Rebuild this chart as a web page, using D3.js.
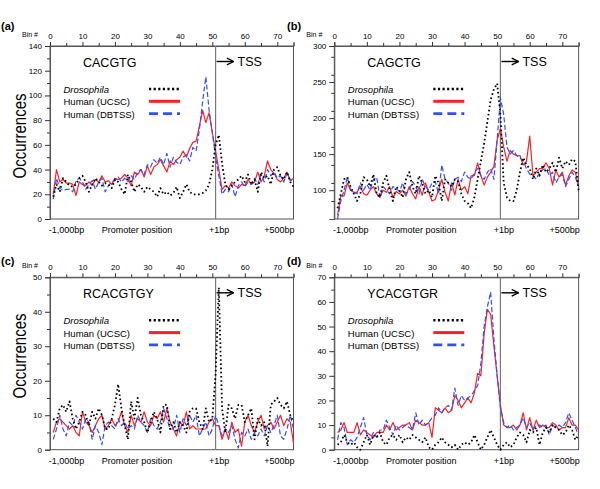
<!DOCTYPE html>
<html><head><meta charset="utf-8">
<script src="https://cdn.jsdelivr.net/npm/d3@7"></script>
<style>body{margin:0;background:#fff} text{font-family:"Liberation Sans",Arial,Helvetica,sans-serif;fill:#000}</style>
</head><body><svg id="chart" width="600" height="489"></svg>
<script>
// ---- data (bins 1..75) ----
const binTickLabels = [0,10,20,30,40,50,60,70];
const seriesNames = ["Drosophila","Human (UCSC)","Human (DBTSS)"];
const motifs = ["CACGTG","CAGCTG","RCACGTGY","YCACGTGR"];
const panelLabels = ["(a)","(b)","(c)","(d)"];
const tssBin = 51;

const a_dro = [18,28,22,33,30,27,26,28,33,35, 30,22,28,33,30,27,29,28,25,32, 30,24,20,36,30,22,28,26,22,26, 24,22,18,25,20,22,19,21,26,17, 22,28,22,20,20,20,21,23,28,40, 60,68,45,28,24,27,30,32,35,30, 36,28,32,22,38,33,35,28,40,42, 35,32,38,30,26];
const a_ucsc = [20,40,30,32,29,29,28,19,30,28, 27,30,27,32,30,35,30,31,28,33, 32,33,36,33,27,38,36,40,34,43, 36,42,44,48,43,38,47,44,48,50, 55,50,57,62,63,75,88,78,86,70, 55,40,24,27,25,30,27,25,28,27, 32,28,30,38,30,35,47,40,37,32, 30,33,38,31,33];
const a_dbtss = [16,33,25,23,24,24,22,31,33,30, 24,28,31,24,30,33,22,27,30,31, 34,30,33,30,35,32,38,40,36,44, 42,48,45,50,44,53,42,50,46,44, 50,52,47,58,55,72,95,115,88,70, 50,35,20,24,22,28,18,27,30,26, 30,28,33,28,36,30,40,35,38,33, 35,30,37,32,30];

const b_dro = [75,95,115,118,105,95,85,95,118,115, 105,122,95,90,110,120,100,85,105,100, 90,115,125,105,95,120,110,95,100,90, 120,110,85,115,110,105,115,112,95,85, 82,75,90,115,140,165,195,225,240,248, 205,110,90,85,85,100,125,145,135,130, 115,130,120,135,125,130,138,125,145,130, 140,135,143,140,100];
const b_ucsc = [65,92,92,110,100,97,97,105,95,93, 100,105,95,90,100,97,105,90,98,95, 100,92,105,95,88,105,93,110,97,85, 87,100,115,97,85,110,93,115,100,105, 95,120,120,138,120,107,118,125,133,170, 185,160,140,155,150,148,148,135,140,175, 120,125,130,130,138,130,107,128,118,125, 107,120,128,125,105];
const b_dbtss = [60,85,100,118,100,97,95,110,100,108, 100,115,118,90,105,100,95,105,102,98, 110,95,100,112,105,95,115,105,100,110, 112,95,135,115,110,100,115,118,112,125, 118,115,125,130,120,115,125,130,115,170, 228,205,160,150,155,148,145,140,130,122, 120,115,125,128,130,120,125,110,118,122, 105,115,125,118,105];

const c_dro = [9,8,12,13,11,14,9,6,8,11, 10,7,11,9,12,10,6,6,9,13, 19,12,7,3,14,9,15,10,8,5, 8,11,9,5,13,13,6,8,5,8, 7,5,11,12,12,8,6,12,8,9, 22,47,12,5,13,12,9,13,13,8, 10,12,3,9,7,8,1,13,14,15, 13,12,14,10,8];
const c_ucsc = [5,8,9,8,7,6,7,5,4,11, 8,7,5,7,9,10,6,7,9,7, 8,11,7,5,10,7,9,8,11,8, 7,10,9,11,8,12,8,6,4,8, 7,11,6,7,6,6,6,6,8,9, 7,7,3,6,3,8,5,6,1,8, 10,7,5,8,10,6,7,8,6,8, 10,7,9,8,2];
const c_dbtss = [3,6,10,6,4,8,7,10,8,6, 9,8,3,7,5,1.5,7,8,7,6, 9,7,8,6,7,6,10,8,7,5, 9,7,6,8,12,9,6,6,10,5, 9,7,10,8,10,4,6,8,4,6, 10,7,4,6,5,7,3,0.5,5,4, 6,3,5,4,6,4,7,5,7,10, 4,3,6,10,6];

const d_dro = [2,3,6,3,2,3,1,0,3,6, 2,6,5,7,3,2,5,6,4,6, 3,5,4,6,5,4,3,5,1,0, 2,3,5,3,2,1,2,0,2,3, 2,3,6,3,0,2,5,8,5,2, 0,2,3,1,2,5,7,6,3,8, 7,9,2,7,9,7,10,9,8,6, 7,10,8,4,6];
const d_ucsc = [7,8,11,7,7,7,11,6,8,7, 6,5,7,7,7,10,8,11,8,9, 10,10,11,8,12,11,10,10,11,5, 17,16,15,17,15,16,22,20,17,19, 21,19,23,31,30,47,57,55,42,30, 18,10,9,9,10,8,10,15,8,13, 8,12,9,10,9,9,11,10,8,9, 9,13,10,10,8];
const d_dbtss = [4,11,9,2,4,3,5,9,13,6, 4,7,5,8,8,12,9,6,10,8, 9,10,9,8,15,10,12,10,11,13, 14,17,15,17,18,16,25,18,22,20, 21,22,24,26,35,50,58,64,45,30, 17,11,9,10,8,9,10,13,9,11, 8,10,10,9,10,6,10,9,10,9, 11,15,12,9,6];

const yTicksA = [0,20,40,60,80,100,120,140];
const yTicksB = [100,150,200,250,300];
const yTicksC = [0,10,20,30,40,50];
const yTicksD = [0,10,20,30,40,50,60,70];

// ---- layout ----
const panels = [
  {lab:panelLabels[0], motif:motifs[0], series:[a_dro,a_ucsc,a_dbtss], dom:[0,140], ticks:yTicksA, minor:10,
   L:50, R:293.5, T:46, B:219, ylab:136, labX:1, labY:30},
  {lab:panelLabels[1], motif:motifs[1], series:[b_dro,b_ucsc,b_dbtss], dom:[60,300], ticks:yTicksB, minor:25,
   L:334.3, R:578.6, T:46, B:219, ylab:null, labX:287, labY:30},
  {lab:panelLabels[2], motif:motifs[2], series:[c_dro,c_ucsc,c_dbtss], dom:[0,50], ticks:yTicksC, minor:5,
   L:50, R:293.5, T:277.3, B:449.7, ylab:356, labX:1, labY:265},
  {lab:panelLabels[3], motif:motifs[3], series:[d_dro,d_ucsc,d_dbtss], dom:[0,70], ticks:yTicksD, minor:5,
   L:334.3, R:578.6, T:277.3, B:449.7, ylab:null, labX:287, labY:265}
];
const styles = [
  {stroke:"#000", w:1.8, dash:"1.6,2.6", lw:2.4, ldash:"2.2,2.4"},
  {stroke:"#ff2020", w:1.2, dash:null, lw:3, ldash:null},
  {stroke:"#3050ff", w:1.2, dash:"5,2.5", lw:2.6, ldash:"9,5"}
];

const svg = d3.select("#chart");
const defs = svg.append("defs");
defs.append("marker").attr("id","arr").attr("viewBox","0 0 10 10").attr("refX",9).attr("refY",5)
  .attr("markerWidth",6).attr("markerHeight",6).attr("orient","auto")
  .append("path").attr("d","M1,1 L9,5 L1,9").attr("fill","none").attr("stroke","#000").attr("stroke-width",1.6);

panels.forEach(p => {
  const g = svg.append("g");
  const x = d3.scaleLinear().domain([0,75]).range([p.L,p.R]);
  const y = d3.scaleLinear().domain(p.dom).range([p.B,p.T]);

  // frame
  g.append("rect").attr("x",p.L).attr("y",p.T).attr("width",p.R-p.L).attr("height",p.B-p.T)
    .attr("fill","none").attr("stroke","#555").attr("stroke-width",1);

  // top bin axis
  const topAx = d3.axisTop(x).tickValues(binTickLabels).tickSize(4).tickPadding(3).tickFormat(d3.format("d"));
  const ta = g.append("g").attr("transform",`translate(0,${p.T})`).call(topAx);
  ta.select(".domain").attr("stroke","#555");
  ta.selectAll("text").attr("font-size",8).attr("font-family","Liberation Sans, Arial");
  const topMinor = d3.axisTop(x).tickValues(d3.range(5,76,10)).tickSize(3).tickFormat("");
  g.append("g").attr("transform",`translate(0,${p.T})`).call(topMinor).select(".domain").remove();
  g.append("text").attr("x",p.L-12).attr("y",p.T-9.5).attr("text-anchor","end").attr("font-size",7).text("Bin #");

  // left axis
  const leftAx = d3.axisLeft(y).tickValues(p.ticks).tickSize(5).tickPadding(3).tickFormat(d3.format("d"));
  const la = g.append("g").attr("transform",`translate(${p.L},0)`).call(leftAx);
  la.select(".domain").attr("stroke","#555");
  la.selectAll("text").attr("font-size",8).attr("font-family","Liberation Sans, Arial");
  const mv = d3.range(p.dom[0], p.dom[1]+0.001, p.minor).filter(v => !p.ticks.includes(v) && v>p.dom[0]);
  const minAx = d3.axisLeft(y).tickValues(mv).tickSize(3).tickFormat("");
  g.append("g").attr("transform",`translate(${p.L},0)`).call(minAx).select(".domain").remove();
  g.selectAll(".tick line").attr("stroke","#333");

  // TSS line
  const tx = x(tssBin);
  g.append("line").attr("x1",tx).attr("x2",tx).attr("y1",p.T).attr("y2",p.B).attr("stroke","#777").attr("stroke-width",1.2);
  g.append("line").attr("x1",tx+1).attr("x2",tx+18).attr("y1",p.T+15.5).attr("y2",p.T+15.5)
    .attr("stroke","#000").attr("stroke-width",1.4).attr("marker-end","url(#arr)");
  g.append("text").attr("x",tx+22).attr("y",p.T+20).attr("font-size",12.5).text("TSS");

  // motif
  g.append("text").attr("x",p.L+33).attr("y",p.T+20.5).attr("font-size",12.5).text(p.motif);

  // series
  const line = d3.line().x((d,i)=>x(i+1)).y(d=>y(d));
  [1,2,0].forEach(si => {
    const s = styles[si];
    g.append("path").datum(p.series[si]).attr("d",line).attr("fill","none")
      .attr("stroke",s.stroke).attr("stroke-width",s.w).attr("stroke-dasharray",s.dash)
      .attr("stroke-linejoin","round");
  });

  // legend
  seriesNames.forEach((n,i) => {
    const by = p.T + 47 + i*12.3;
    const t = g.append("text").attr("x",p.L+13.5).attr("y",by).attr("font-size",9.5).text(n);
    if (i===0) t.attr("font-style","italic");
    const s = styles[i];
    g.append("line").attr("x1",p.L+99).attr("x2",p.L+130).attr("y1",by-4).attr("y2",by-4)
      .attr("stroke",s.stroke).attr("stroke-width",s.lw).attr("stroke-dasharray",s.ldash);
  });

  // bottom labels
  const bl = p.B + 14;
  g.append("text").attr("x",p.L+16.5).attr("y",bl).attr("text-anchor","middle").attr("font-size",9).text("-1,000bp");
  g.append("text").attr("x",p.L+87).attr("y",bl).attr("text-anchor","middle").attr("font-size",9).text("Promoter position");
  g.append("text").attr("x",tx+3.5).attr("y",bl).attr("text-anchor","middle").attr("font-size",9).text("+1bp");
  g.append("text").attr("x",p.R-14).attr("y",bl).attr("text-anchor","middle").attr("font-size",9).text("+500bp");

  // panel label
  g.append("text").attr("x",p.labX).attr("y",p.labY).attr("font-size",11).attr("font-weight","bold").text(p.lab);

  if (p.ylab !== null) {
    g.append("text").attr("transform",`translate(26,${p.ylab}) rotate(-90)`).attr("text-anchor","middle")
      .attr("font-size",19).attr("textLength",85).attr("lengthAdjust","spacingAndGlyphs").text("Occurrences");
  }
});
</script></body></html>
